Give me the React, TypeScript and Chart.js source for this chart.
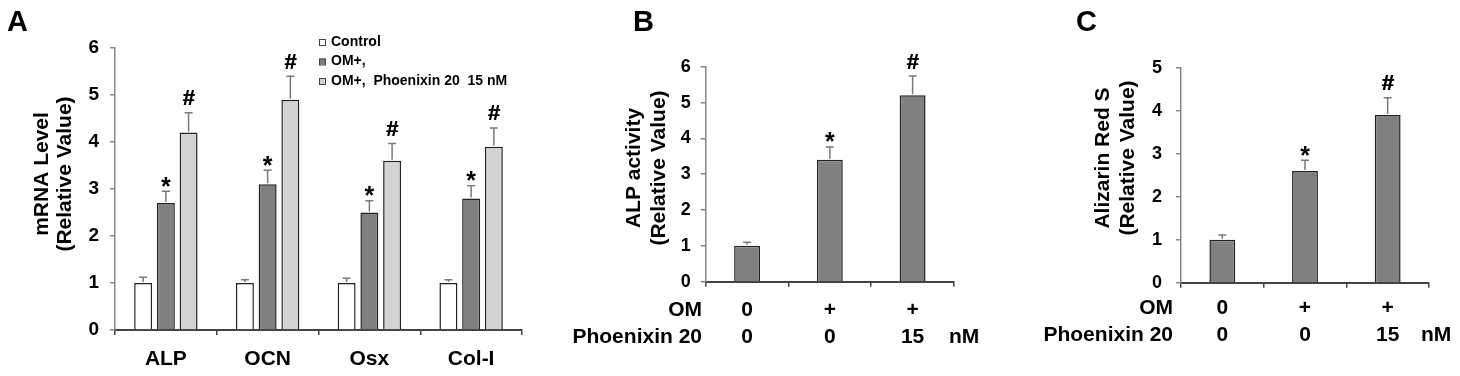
import React, { useEffect, useRef } from 'react';
import { Chart, registerables } from 'chart.js';

Chart.register(...registerables);

const FONT = '"Liberation Sans", Arial, Helvetica, sans-serif';

// ---------- Panel A data ----------
const genesA = ['ALP', 'OCN', 'Osx', 'Col-I'];
const seriesA = ['Control', 'OM+,', 'OM+,  Phoenixin 20  15 nM'];
const controlA = [1.0, 1.0, 1.0, 1.0];
const controlErrA = [0.12, 0.07, 0.1, 0.07];
const omA = [2.7, 3.1, 2.5, 2.8];
const omErrA = [0.25, 0.3, 0.25, 0.27];
const pnxA = [4.2, 4.9, 3.6, 3.9];
const pnxErrA = [0.42, 0.5, 0.37, 0.4];
const marksA = ['', '*', '#'];
const yTitleA = ['mRNA Level', '(Relative Value)'];
const yMaxA = 6;

// ---------- Panel B data ----------
const omRow = ['0', '+', '+'];
const pnxRow = ['0', '0', '15'];
const rowNames = ['OM', 'Phoenixin 20'];
const unitLabel = 'nM';
const alpB = [1.0, 3.4, 5.2];
const alpErrB = [0.1, 0.36, 0.54];
const marksBC = ['', '*', '#'];
const yTitleB = ['ALP activity', '(Relative Value)'];
const yMaxB = 6;

// ---------- Panel C data ----------
const arsC = [1.0, 2.6, 3.9];
const arsErrC = [0.11, 0.25, 0.4];
const yTitleC = ['Alizarin Red S', '(Relative Value)'];
const yMaxC = 5;

const WHITE = '#ffffff';
const DARK = '#808080';
const LIGHT = '#d3d3d3';
const EDGE = '#222222';

const errorBars = {
  id: 'errorBars',
  afterDatasetsDraw(chart: any) {
    const { ctx } = chart;
    const ys = chart.scales.y;
    chart.data.datasets.forEach((ds: any, di: number) => {
      const meta = chart.getDatasetMeta(di);
      meta.data.forEach((el: any, i: number) => {
        const v = ds.data[i];
        const err = ds.errors ? ds.errors[i] : 0;
        const yb = ys.getPixelForValue(v);
        const yt = ys.getPixelForValue(v + err);
        const x = el.x;
        ctx.save();
        ctx.strokeStyle = '#7a7a7a';
        ctx.lineWidth = 1.5;
        ctx.beginPath();
        ctx.moveTo(x, yb - 1);
        ctx.lineTo(x, yt);
        ctx.moveTo(x - 4, yt);
        ctx.lineTo(x + 4, yt);
        ctx.stroke();
        const m = ds.marks ? ds.marks[i] : '';
        if (m) {
          ctx.fillStyle = '#000';
          ctx.textAlign = 'center';
          ctx.textBaseline = 'alphabetic';
          const star = m === '*';
          ctx.font = star ? `bold 25px ${FONT}` : `bold 22px ${FONT}`;
          const mt = ctx.measureText(m);
          const bottom = yt - (star ? 4.5 : 7.5);
          ctx.fillText(m, x, bottom - mt.actualBoundingBoxDescent);
          if (!star) ctx.fillText(m, x + 0.6, bottom - mt.actualBoundingBoxDescent);
        }
        ctx.restore();
      });
    });
  },
};

const decor = {
  id: 'decor',
  afterDraw(chart: any, _args: any, opts: any) {
    const { ctx } = chart;
    ctx.save();
    ctx.fillStyle = '#000';
    ctx.textBaseline = 'alphabetic';
    ctx.textAlign = 'left';
    ctx.font = `bold 29px ${FONT}`;
    if (opts.letter) ctx.fillText(opts.letter, opts.letterX, 31);
    if (opts.yTitle) {
      const T = opts.yTitle;
      ctx.font = `bold 21px ${FONT}`;
      ctx.textAlign = 'center';
      ctx.textBaseline = 'middle';
      T.lines.forEach((t: string, i: number) => {
        ctx.save();
        ctx.translate(T.x + i * T.gap, T.y);
        ctx.rotate(-Math.PI / 2);
        ctx.fillText(t, 0, 0);
        ctx.restore();
      });
    }
    if (opts.legend) {
      const L = opts.legend;
      ctx.font = `bold 14px ${FONT}`;
      ctx.textBaseline = 'middle';
      ctx.textAlign = 'left';
      chart.data.datasets.forEach((ds: any, i: number) => {
        const y = L.y + i * L.gap;
        ctx.fillStyle = ds.backgroundColor;
        ctx.fillRect(L.x, y - 3, 6, 6);
        ctx.strokeStyle = '#444';
        ctx.lineWidth = 1;
        ctx.strokeRect(L.x + 0.5, y - 2.5, 6, 6);
        ctx.fillStyle = '#000';
        ctx.fillText(ds.label, L.x + 12, y);
      });
    }
    if (opts.rows) {
      const R = opts.rows;
      ctx.font = `bold 21px ${FONT}`;
      ctx.textBaseline = 'middle';
      ctx.textAlign = 'right';
      R.labels.forEach((t: string, i: number) => ctx.fillText(t, R.x, R.y + i * R.gap));
      ctx.textAlign = 'left';
      ctx.fillText(R.unit, R.unitX, R.y + R.gap);
    }
    ctx.restore();
  },
};

function yScale(max: number, tickSize: number, tickPad: number, width: number) {
  return {
    min: 0,
    max,
    ticks: {
      stepSize: 1,
      font: { family: FONT, size: tickSize, weight: 'bold' },
      color: '#000',
      padding: tickPad,
    },
    grid: { drawOnChartArea: false, tickLength: 5, color: '#888', lineWidth: 1.5 },
    border: { color: '#888', width: 1.5 },
    afterFit: (s: any) => {
      s.width = width;
    },
  };
}

function xScale(tickPad: number, height: number, lineHeight: number) {
  return {
    grid: { drawOnChartArea: false, tickLength: 5, color: '#444', lineWidth: 1.5 },
    border: { color: '#444', width: 2 },
    ticks: {
      font: { family: FONT, size: 21, weight: 'bold', lineHeight },
      color: '#000',
      padding: tickPad,
      maxRotation: 0,
    },
    afterFit: (s: any) => {
      s.height = height;
    },
  };
}

function configA(): any {
  const colors = [WHITE, DARK, LIGHT];
  const vals = [controlA, omA, pnxA];
  const errs = [controlErrA, omErrA, pnxErrA];
  return {
    type: 'bar',
    data: {
      labels: genesA,
      datasets: seriesA.map((name, di) => ({
        label: name,
        data: vals[di],
        errors: errs[di],
        marks: genesA.map(() => marksA[di]),
        backgroundColor: colors[di],
        borderColor: EDGE,
        borderWidth: 1.5,
        categoryPercentage: 0.67,
        barPercentage: 0.79,
      })),
    },
    options: {
      responsive: false,
      animation: false,
      layout: { padding: { left: 0, right: 8, top: 48, bottom: 0 } },
      plugins: {
        legend: { display: false },
        tooltip: { enabled: false },
        decor: {
          letter: 'A',
          letterX: 7,
          legend: { x: 319, y: 42, gap: 19.5 },
          yTitle: { lines: yTitleA, x: 42, gap: 23, y: 174 },
        },
      },
      scales: {
        x: xScale(12, 46, 1.2),
        y: yScale(yMaxA, 19, 11, 115),
      },
    },
    plugins: [errorBars, decor],
  };
}

function configBC(
  values: number[],
  errors: number[],
  yMax: number,
  title: string[],
  letter: string,
  p: any
): any {
  return {
    type: 'bar',
    data: {
      labels: omRow.map((o, i) => [o, pnxRow[i]]),
      datasets: [
        {
          label: title.join(' '),
          data: values,
          errors,
          marks: marksBC,
          backgroundColor: DARK,
          borderColor: EDGE,
          borderWidth: 1.5,
          categoryPercentage: 1,
          barPercentage: 0.313,
        },
      ],
    },
    options: {
      responsive: false,
      animation: false,
      layout: { padding: { left: 0, right: p.padRight, top: p.padTop, bottom: 0 } },
      plugins: {
        legend: { display: false },
        tooltip: { enabled: false },
        decor: {
          letter,
          letterX: p.letterX,
          yTitle: { lines: title, x: p.titleX, gap: 25, y: p.titleY },
          rows: { labels: rowNames, x: p.rowX, y: p.rowY, gap: 27, unit: unitLabel, unitX: p.unitX },
        },
      },
      scales: {
        x: xScale(p.xPad, p.xHeight, 1.3),
        y: yScale(yMax, 18, p.tickPad, p.yWidth),
      },
    },
    plugins: [errorBars, decor],
  };
}

function Panel({ left, width, make }: { left: number; width: number; make: () => any }) {
  const ref = useRef<HTMLCanvasElement | null>(null);
  useEffect(() => {
    if (!ref.current) return;
    const chart = new Chart(ref.current, make());
    return () => chart.destroy();
  }, []);
  return (
    <div style={{ position: 'absolute', left, top: 0, width, height: 376 }}>
      <canvas ref={ref} width={width} height={376} style={{ width, height: 376, display: 'block' }} />
    </div>
  );
}

export default function App() {
  return (
    <div style={{ position: 'absolute', left: 0, top: 0, width: 1460, height: 376, background: '#fff', overflow: 'hidden' }}>
      <Panel left={0} width={530} make={configA} />
      <Panel
        left={540}
        width={450}
        make={() =>
          configBC(alpB, alpErrB, yMaxB, yTitleB, 'B', {
            padRight: 36,
            padTop: 66.7,
            letterX: 93,
            titleX: 94,
            titleY: 168,
            rowX: 162,
            rowY: 310,
            unitX: 409,
            xPad: 9.6,
            xHeight: 94.3,
            tickPad: 10,
            yWidth: 165.7,
          })
        }
      />
      <Panel
        left={1000}
        width={460}
        make={() =>
          configBC(arsC, arsErrC, yMaxC, yTitleC, 'C', {
            padRight: 31,
            padTop: 67.7,
            letterX: 76,
            titleX: 103,
            titleY: 158,
            rowX: 173,
            rowY: 308,
            unitX: 421,
            xPad: 6.6,
            xHeight: 93.3,
            tickPad: 14,
            yWidth: 181,
          })
        }
      />
    </div>
  );
}
